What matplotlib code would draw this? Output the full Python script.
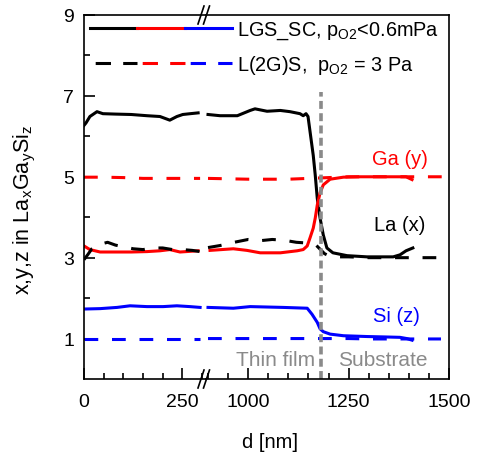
import numpy as np
import matplotlib
matplotlib.use("Agg")
import matplotlib.pyplot as plt
from matplotlib.lines import Line2D
from matplotlib.legend_handler import HandlerTuple

plt.rcParams['font.family'] = ['Liberation Sans', 'DejaVu Sans']
plt.rcParams['mathtext.fontset'] = 'custom'
plt.rcParams['mathtext.rm'] = 'Liberation Sans'
plt.rcParams['mathtext.it'] = 'Liberation Sans:italic'

# ---------------- data ----------------
# LGS_SC (solid)
d_sc_la = [0, 5, 15, 33, 48, 80, 120, 160, 193, 218, 236, 251, 270, 290,
           900, 930, 973, 1005, 1017, 1047, 1080, 1104, 1129, 1137, 1144, 1149,
           1154, 1162, 1167, 1172, 1179, 1187, 1196, 1211, 1246, 1296, 1330, 1361,
           1378, 1393, 1410]
la_sc = [6.27, 6.33, 6.49, 6.61, 6.56, 6.55, 6.54, 6.51, 6.49, 6.40, 6.49, 6.54, 6.56, 6.58,
         6.54, 6.51, 6.51, 6.64, 6.68, 6.62, 6.64, 6.61, 6.56, 6.51, 6.56, 6.49,
         6.12, 5.53, 5.04, 4.47, 3.98, 3.56, 3.24, 3.12, 3.05, 3.02, 3.02, 3.02,
         3.07, 3.17, 3.24]

d_sc_ga = [0, 15, 41, 80, 120, 160, 193, 218, 244, 290,
           905, 963, 997, 1030, 1080, 1122, 1137, 1147, 1154, 1162, 1167, 1172,
           1179, 1187, 1204, 1237, 1280, 1330, 1393, 1408]
ga_sc = [3.29, 3.20, 3.14, 3.14, 3.14, 3.15, 3.17, 3.20, 3.14, 3.17,
         3.18, 3.22, 3.18, 3.12, 3.12, 3.17, 3.20, 3.29, 3.49, 3.73, 3.98, 4.30,
         4.60, 4.80, 4.94, 4.99, 5.00, 5.00, 5.00, 4.93]

d_sc_si = [0, 41, 84, 117, 160, 201, 236, 269, 295,
           900, 963, 1005, 1087, 1147, 1159, 1172, 1179, 1187, 1204, 1237, 1296,
           1340, 1378, 1395, 1408]
si_sc = [1.73, 1.74, 1.77, 1.81, 1.79, 1.79, 1.81, 1.79, 1.77,
         1.77, 1.75, 1.79, 1.77, 1.75, 1.60, 1.40, 1.24, 1.17, 1.11, 1.07, 1.05,
         1.04, 1.03, 1.00, 0.96]

# L(2G)S (dashed)
d_2g_la = [0, 10, 20, 40, 60, 80, 100, 125, 150, 175, 200, 225, 250, 275, 295,
           900, 930, 960, 1000, 1030, 1060, 1090, 1120, 1150, 1170, 1180, 1190,
           1200, 1220, 1250, 1300, 1350, 1400, 1450, 1490]
la_2g = [2.95, 3.08, 3.22, 3.33, 3.38, 3.31, 3.27, 3.22, 3.20, 3.24, 3.24, 3.20, 3.20, 3.18, 3.15,
         3.25, 3.30, 3.37, 3.45, 3.42, 3.45, 3.43, 3.38, 3.36, 3.30, 3.20, 3.10,
         3.05, 3.02, 3.02, 3.00, 3.00, 3.00, 3.00, 3.00]

d_2g_ga = [0, 50, 100, 150, 200, 250, 295,
           900, 950, 1000, 1050, 1100, 1150, 1200, 1250, 1300, 1350, 1400, 1450, 1500]
ga_2g = [4.99, 4.99, 4.98, 4.96, 4.96, 4.96, 4.96,
         4.96, 4.95, 4.94, 4.94, 4.94, 4.96, 4.98, 5.00, 5.00, 5.00, 5.00, 5.00, 5.00]

d_2g_si = [0, 50, 100, 150, 200, 250, 295,
           900, 950, 1000, 1050, 1100, 1150, 1200, 1250, 1300, 1350, 1400, 1450, 1480]
si_2g = [1.00, 1.00, 1.00, 1.00, 1.00, 1.00, 1.00,
         1.00, 1.00, 1.00, 1.00, 1.00, 1.00, 1.00, 1.00, 0.99, 0.99, 0.99, 0.99, 0.99]

interface_d = 1182
interface_top = 7.1

x_left_lim = (0, 310)
x_right_lim = (895, 1500)
y_lim = (0, 9)
y_major = [1, 3, 5, 7, 9]
y_minor = [2, 4, 6, 8]
x_left_major = [0, 250]
x_left_minor = [50, 100, 150, 200, 300]
x_right_major = [1000, 1250, 1500]
x_right_minor = [900, 950, 1050, 1100, 1150, 1200, 1300, 1350, 1400, 1450]

# ---------------- figure ----------------
W, H = 478, 460
fig = plt.figure(figsize=(W / 100, H / 100), dpi=100)
L, B, R, T, BRK = 84, 80, 449, 444, 206
ax1 = fig.add_axes([L / W, B / H, (BRK - L) / W, (T - B) / H])
ax2 = fig.add_axes([BRK / W, B / H, (R - BRK) / W, (T - B) / H], sharey=ax1)

LW = 2.2
dash = (0, (4.5, 4.5))
series = [
    (d_sc_la, la_sc, 'black', '-'),
    (d_sc_ga, ga_sc, 'red', '-'),
    (d_sc_si, si_sc, 'blue', '-'),
    (d_2g_la, la_2g, 'black', dash),
    (d_2g_ga, ga_2g, 'red', dash),
    (d_2g_si, si_2g, 'blue', dash),
]
for dd, vv, c, ls in series:
    dd = np.asarray(dd, float)
    vv = np.asarray(vv, float)
    m1 = dd <= x_left_lim[1]
    m2 = dd >= x_right_lim[0]
    ax1.plot(dd[m1], vv[m1], color=c, ls=ls, lw=LW)
    ax2.plot(dd[m2], vv[m2], color=c, ls=ls, lw=LW)

ax2.vlines(interface_d, 0, interface_top, colors='#8a8a8a', linestyles=(0, (2.2, 1.2)), lw=2.6)

for ax in (ax1, ax2):
    ax.set_ylim(*y_lim)
    for s in ax.spines.values():
        s.set_linewidth(1.2)
    ax.tick_params(direction='in', which='major', length=8, width=1.2, labelsize=14)
    ax.tick_params(direction='in', which='minor', length=4, width=1.2)
    ax.tick_params(axis='x', which='major', pad=10)
    ax.tick_params(axis='y', which='major', pad=7)
    ax.tick_params(top=False, right=False, which='both')

ax1.set_xlim(*x_left_lim)
ax2.set_xlim(*x_right_lim)
ax1.set_xticks(x_left_major)
ax1.set_xticks(x_left_minor, minor=True)
ax2.set_xticks(x_right_major)
ax2.set_xticks(x_right_minor, minor=True)
ax1.set_yticks(y_major)
ax1.set_yticks(y_minor, minor=True)
ax1.spines['right'].set_visible(False)
ax2.spines['left'].set_visible(False)
ax2.tick_params(axis='y', which='both', left=False, labelleft=False)

# break marks
for yc in (T, B):
    for xc in (201, 206.5):
        fig.add_artist(Line2D([(xc - 3) / W, (xc + 3) / W], [(yc - 9) / H, (yc + 9) / H],
                              transform=fig.transFigure, color='black', lw=1.2))

# annotations
ax2.text(1377, 5.45, 'Ga (y)', color='red', fontsize=14.5, ha='center', va='center')
ax2.text(1376, 3.81, 'La (x)', color='black', fontsize=14.5, ha='center', va='center')
ax2.text(1369, 1.57, 'Si (z)', color='blue', fontsize=14.5, ha='center', va='center')
ax2.text(1167, 0.49, 'Thin film', color='#8a8a8a', fontsize=15, ha='right', va='center')
ax2.text(1224, 0.49, 'Substrate', color='#8a8a8a', fontsize=15, ha='left', va='center')

fig.text(270 / W, 1 - 443 / H, 'd [nm]', fontsize=14.5, ha='center', va='center')
fig.text(25 / W, 1 - 210 / H, r'x,y,z in La$_{\rm x}$Ga$_{\rm y}$Si$_{\rm z}$', fontsize=15.5,
         ha='center', va='center', rotation=90)

# legend
lw_l = LW
solid_h = tuple(Line2D([], [], color=c, lw=lw_l) for c in ('black', 'red', 'blue'))
dash_h = tuple(Line2D([], [], color=c, lw=lw_l, ls=(7.3, (5, 4))) for c in ('black', 'red', 'blue'))
fig.legend([solid_h, dash_h],
           [r'LGS_SC, p$_{\rm O2}$<0.6mPa', r'L(2G)S,  p$_{\rm O2}$ = 3 Pa'],
           handler_map={tuple: HandlerTuple(ndivide=None, pad=0.0)},
           loc='upper left', bbox_to_anchor=(90 / W, 1 - 21 / H), frameon=False,
           fontsize=14.3, borderpad=0, borderaxespad=0, handlelength=7.15,
           handletextpad=0.26, labelspacing=0.6)

fig.savefig('out.png', dpi=100)
